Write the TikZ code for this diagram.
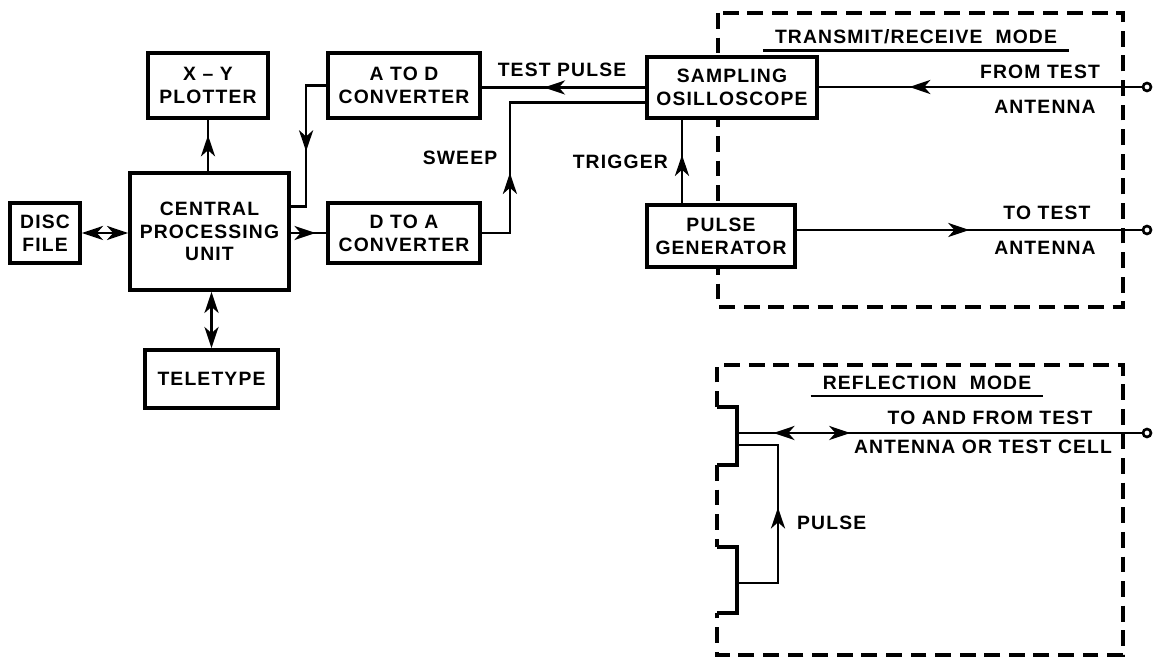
\documentclass[tikz,border=0pt]{standalone}
\usepackage{fontspec}
\setmainfont{Liberation Sans}[LetterSpace=6.0]
\usetikzlibrary{arrows.meta,decorations.markings,calc}
\begin{document}
\begin{tikzpicture}[x=0.02cm,y=-0.02cm,
  font=\fontsize{11}{13}\selectfont\bfseries,
  >={Stealth[length=12pt,width=8pt,inset=3.5pt]},
  blk/.style={draw,line width=2.2pt,fill=white,align=center,inner sep=0pt},
  wire/.style={line width=1.5pt},
  frame/.style={line width=2pt,dash pattern=on 9pt off 5pt},
  flow/.style={postaction={decorate,decoration={markings,
      mark=at position #1 with {\arrow{>}}}}},
  flowback/.style={postaction={decorate,decoration={markings,
      mark=at position #1 with {\arrowreversed{>}}}}},
  term/.style={circle,draw,line width=1.5pt,fill=white,
    minimum size=0.16cm,inner sep=0pt}]
  \useasboundingbox (0,0) rectangle (1153,661);
  % mode frames
  \draw[frame] (718,13) rectangle (1123,307);
  \draw[frame] (717,407) -- (717,365) -- (1123,365) -- (1123,655)
    -- (717,655) -- (717,613);
  \draw[frame] (717,465) -- (717,547);
  \draw[wire,line width=2pt] (717,407) -- (737,407) -- (737,465) -- (717,465);
  \draw[wire,line width=2pt] (717,547) -- (737,547) -- (737,613) -- (717,613);
  % blocks
  \node[blk,minimum width=1.4cm,minimum height=1.2cm] (disc) at (45,233)
    {DISC\\FILE};
  \node[blk,minimum width=3.18cm,minimum height=2.34cm] (cpu) at (209.5,231.5)
    {CENTRAL\\PROCESSING\\UNIT};
  \node[blk,minimum width=2.66cm,minimum height=1.16cm] (tele) at (211.5,379)
    {TELETYPE};
  \node[blk,minimum width=2.4cm,minimum height=1.3cm] (plot) at (208,85.5)
    {X -- Y\\PLOTTER};
  \node[blk,minimum width=3.04cm,minimum height=1.3cm] (atod) at (404,85.5)
    {A TO D\\CONVERTER};
  \node[blk,minimum width=3.04cm,minimum height=1.2cm] (dtoa) at (404,233)
    {D TO A\\CONVERTER};
  \node[blk,minimum width=3.4cm,minimum height=1.22cm] (osc) at (732,87.5)
    {SAMPLING\\OSILLOSCOPE};
  \node[blk,minimum width=2.96cm,minimum height=1.24cm] (pgen) at (721,236)
    {PULSE\\GENERATOR};
  % terminals
  \node[term] (t1) at (1147,87) {};
  \node[term] (t2) at (1147,230) {};
  \node[term] (t3) at (1147,433) {};
  \coordinate (rfl) at (737,433);
  % connectors
  \draw[wire,<->] (disc.east) -- (disc.east -| cpu.west);
  \draw[wire,<->] (tele.north |- cpu.south) -- (tele.north);
  \draw[wire,flow=0.7] (plot.south |- cpu.north) -- (plot.south);
  \draw[wire,flow=0.7] (dtoa.west -| cpu.east) -- (dtoa.west);
  \draw[wire,flow=0.55] (atod.west) -- ++(-20,0) |- ($(cpu.east)+(0,-25)$);
  \draw[wire,flow=0.62] (osc.west) -- (osc.west -| atod.east);
  \draw[wire,flow=0.3] (dtoa.east) -- ++(28,0) |- ($(osc.west)+(0,15)$);
  \draw[wire,flow=0.58] ($(pgen.north)+(-39,0)$) coordinate (trg)
    -- (trg |- osc.south);
  \draw[wire,flow=0.72] (t1.west) -- (t1.west -| osc.east);
  \draw[wire,flow=0.5] (pgen.east |- t2) -- (t2.west);
  \draw[wire,flowback=0.09,flow=0.28] (rfl) -- (t3.west);
  \draw[wire,flow=0.53] (737,583) -- (778,583) -- (778,445) -- (737,445);
  % labels
  \node (tp) at (562,70) {TEST PULSE};
  \node (sw) at (460,158) {SWEEP};
  \node[anchor=east] (tg) at (674,162) {TRIGGER};
  \node (ft) at (1040,72) {FROM TEST};
  \node (fa) at (1045,107) {ANTENNA};
  \node (tt) at (1047,213) {TO TEST};
  \node (ta) at (1045,248) {ANTENNA};
  \node (taf) at (990,418) {TO AND FROM TEST};
  \node (atc) at (983,447) {ANTENNA OR TEST CELL};
  \node[anchor=west] (pl) at (791,523) {PULSE};
  \node (trhead) at (916,37) {TRANSMIT/RECEIVE~~MODE};
  \draw[wire] ($(trhead.south west)+(-6,0)$) -- ($(trhead.south east)+(6,0)$);
  \node (rfhead) at (927,383) {REFLECTION~~MODE};
  \draw[wire] ($(rfhead.south west)+(-6,0)$) -- ($(rfhead.south east)+(6,0)$);
\end{tikzpicture}
\end{document}
